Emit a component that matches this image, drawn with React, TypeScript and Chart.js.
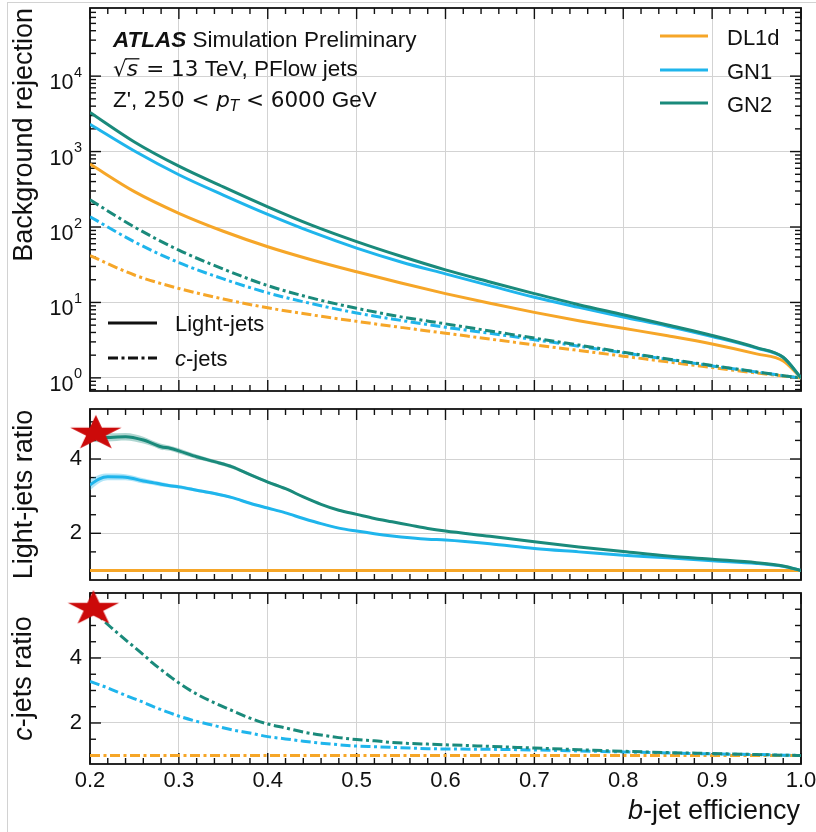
import React, { useEffect, useRef } from 'react';
import { Chart, registerables } from 'chart.js';
Chart.register(...registerables);

const FONT = '"Liberation Sans", Arial, Helvetica, sans-serif';
const MATH = '"DejaVu Sans", sans-serif';

// ---- data: top panel (background rejection) ----
const effTop = [0.2, 0.25, 0.3, 0.35, 0.4, 0.45, 0.5, 0.55, 0.6, 0.65, 0.7, 0.75, 0.8, 0.85, 0.9, 0.95, 0.98, 1.0];
const dl1dLight = [683, 294, 152, 87.9, 54.8, 36.6, 25.5, 18.1, 13.1, 9.73, 7.38, 5.73, 4.55, 3.61, 2.81, 2.08, 1.68, 1.0];
const gn1Light = [2300, 1016, 493, 265, 147, 85.3, 52.5, 34.4, 23.9, 16.7, 11.7, 8.6, 6.41, 4.84, 3.53, 2.48, 1.86, 1.0];
const gn2Light = [3300, 1340, 640, 340, 185, 105, 64, 40.9, 27.0, 18.7, 13.1, 9.33, 6.87, 5.02, 3.65, 2.52, 1.88, 1.0];
const dl1dC = [41.7, 23.1, 15.3, 11.1, 8.49, 6.82, 5.61, 4.67, 3.91, 3.27, 2.74, 2.31, 1.94, 1.63, 1.37, 1.16, 1.06, 1.0];
const gn1C = [137, 63.5, 33.7, 20.5, 13.4, 9.6, 7.24, 5.78, 4.69, 3.9, 3.21, 2.63, 2.15, 1.76, 1.44, 1.2, 1.07, 1.0];
const gn2C = [229, 100, 49.3, 27.7, 16.7, 11.4, 8.36, 6.44, 5.2, 4.19, 3.37, 2.72, 2.19, 1.78, 1.46, 1.2, 1.07, 1.0];

// ---- data: ratio panels ----
const effRatio = [0.2, 0.21, 0.22, 0.24, 0.26, 0.27, 0.28, 0.29, 0.3, 0.32, 0.34, 0.36, 0.38, 0.4, 0.42, 0.44, 0.46, 0.48, 0.5, 0.52, 0.54, 0.56, 0.58, 0.6, 0.65, 0.7, 0.75, 0.8, 0.85, 0.9, 0.95, 0.98, 1.0];
const gn2LightRatio = [4.6, 4.57, 4.58, 4.6, 4.51, 4.42, 4.33, 4.29, 4.22, 4.06, 3.93, 3.79, 3.58, 3.38, 3.2, 2.98, 2.78, 2.62, 2.51, 2.4, 2.31, 2.22, 2.13, 2.06, 1.92, 1.77, 1.63, 1.51, 1.39, 1.3, 1.21, 1.12, 1.0];
const gn1LightRatio = [3.3, 3.46, 3.52, 3.51, 3.41, 3.37, 3.32, 3.28, 3.25, 3.16, 3.07, 2.96, 2.81, 2.68, 2.55, 2.4, 2.26, 2.14, 2.06, 1.99, 1.93, 1.88, 1.84, 1.82, 1.72, 1.59, 1.5, 1.41, 1.34, 1.26, 1.19, 1.11, 1.0];
const gn2LightErr = [0.13, 0.12, 0.11, 0.1, 0.09, 0.08, 0.08, 0.07, 0.07, 0.06, 0.05, 0.05, 0.04, 0.04, 0.03, 0.03, 0.02, 0.02, 0.02, 0.02, 0.02, 0.02, 0.02, 0.02, 0.01, 0.01, 0.01, 0.01, 0.01, 0.01, 0.01, 0.01, 0.0];
const gn1LightErr = [0.14, 0.11, 0.09, 0.08, 0.07, 0.06, 0.06, 0.05, 0.05, 0.04, 0.04, 0.03, 0.03, 0.03, 0.02, 0.02, 0.02, 0.02, 0.02, 0.02, 0.02, 0.02, 0.02, 0.02, 0.01, 0.01, 0.01, 0.01, 0.01, 0.01, 0.01, 0.01, 0.0];
const gn2CRatio = [5.5, 5.3, 5.03, 4.56, 4.1, 3.86, 3.64, 3.43, 3.23, 2.89, 2.62, 2.38, 2.15, 1.97, 1.85, 1.72, 1.63, 1.55, 1.49, 1.45, 1.4, 1.37, 1.35, 1.33, 1.28, 1.23, 1.18, 1.13, 1.09, 1.06, 1.03, 1.01, 1.0];
const gn1CRatio = [3.28, 3.18, 3.08, 2.85, 2.64, 2.52, 2.41, 2.31, 2.21, 2.05, 1.92, 1.79, 1.69, 1.58, 1.51, 1.44, 1.38, 1.33, 1.29, 1.27, 1.25, 1.23, 1.21, 1.2, 1.19, 1.17, 1.14, 1.11, 1.08, 1.05, 1.03, 1.01, 1.0];
const dl1dRatioEff = [0.2, 1.0];
const dl1dRatio = [1, 1];

// ---- star markers ----
const starLightEff = [0.2066];
const starLightVal = [4.69];
const starCEff = [0.2038];
const starCVal = [5.52];

// ---- ticks ----
const xTickValues = [0.2, 0.3, 0.4, 0.5, 0.6, 0.7, 0.8, 0.9, 1.0];
const logTickValues = [1, 10, 100, 1000, 10000];
const logTickExponents = ['0', '1', '2', '3', '4'];
const ratioTickValues = [2, 4];

const C_DL1D = '#F6A628';
const C_GN1 = '#1FB5EC';
const C_GN2 = '#1A8A7B';
const DASH = [10, 3.5, 3, 3.5];

const pts = (xs: number[], ys: number[]) => xs.map((x, i) => ({ x, y: ys[i] }));

function yAfterFit(scale: any) {
  scale.width = 90;
  scale.paddingTop = 0; scale.paddingBottom = 0; scale.paddingLeft = 0; scale.paddingRight = 0;
}
function xAfterFitHidden(scale: any) {
  scale.height = 0;
  scale.paddingTop = 0; scale.paddingBottom = 0; scale.paddingLeft = 0; scale.paddingRight = 0;
}
function xAfterFitLabels(scale: any) {
  scale.height = 40;
  scale.paddingTop = 0; scale.paddingBottom = 0; scale.paddingLeft = 0; scale.paddingRight = 0;
}
const setTicks = (vals: number[]) => (scale: any) => { scale.ticks = vals.map((v) => ({ value: v })); };

type YT = { v: number; major: boolean };
function logYTicks(min: number, max: number): YT[] {
  const out: YT[] = [];
  for (let d = -1; d <= 4; d++) for (let k = 1; k <= 9; k++) {
    const v = k * Math.pow(10, d);
    if (v >= min && v <= max) out.push({ v, major: k === 1 });
  }
  return out;
}
function linYTicks(min: number, max: number): YT[] {
  const out: YT[] = [];
  for (let i = 0; i * 0.5 <= max; i++) {
    const v = i * 0.5;
    if (v >= min && v <= max) out.push({ v, major: ratioTickValues.includes(v) });
  }
  return out;
}

function framePlugin(yTicks: YT[]) {
  return {
    id: 'atlasFrame',
    beforeDatasetsDraw(chart: any) {
      const { ctx, chartArea: a, scales } = chart;
      const xs = scales.x, ys = scales.y;
      ctx.save();
      ctx.strokeStyle = '#111';
      ctx.lineWidth = 1.4;
      const line = (x1: number, y1: number, x2: number, y2: number) => {
        ctx.beginPath(); ctx.moveTo(x1, y1); ctx.lineTo(x2, y2); ctx.stroke();
      };
      for (let i = 0; i <= 40; i++) {
        const v = 0.2 + i * 0.02;
        const p = xs.getPixelForValue(v);
        const L = i % 5 === 0 ? 11 : 6;
        line(p, a.bottom, p, a.bottom - L);
        line(p, a.top, p, a.top + L);
      }
      for (const t of yTicks) {
        const p = ys.getPixelForValue(t.v);
        if (p < a.top + 0.5 || p > a.bottom - 0.5) continue;
        const L = t.major ? 11 : 6;
        line(a.left, p, a.left + L, p);
        line(a.right, p, a.right - L, p);
      }
      ctx.lineWidth = 1.8;
      ctx.strokeRect(a.left, a.top, a.right - a.left, a.bottom - a.top);
      ctx.restore();
    },
  };
}

type Run = { t: string; f: string; dy?: number };
function drawRuns(ctx: CanvasRenderingContext2D, x: number, y: number, runs: Run[]) {
  let cx = x;
  for (const r of runs) {
    ctx.font = r.f;
    ctx.fillText(r.t, cx, y + (r.dy || 0));
    cx += ctx.measureText(r.t).width;
  }
  return cx;
}
function runsWidth(ctx: CanvasRenderingContext2D, runs: Run[]) {
  let w = 0;
  for (const r of runs) { ctx.font = r.f; w += ctx.measureText(r.t).width; }
  return w;
}

const F = (size: number, style = '') => `${style} ${size}px ${FONT}`.trim();
const M = (size: number, style = '') => `${style} ${size}px ${MATH}`.trim();

const topTextPlugin = {
  id: 'topText',
  afterDraw(chart: any) {
    const { ctx, scales } = chart;
    const ys = scales.y;
    ctx.save();
    ctx.fillStyle = '#111';
    ctx.textBaseline = 'alphabetic';
    ctx.textAlign = 'left';
    // log tick labels
    logTickValues.forEach((v, i) => {
      const p = ys.getPixelForValue(v);
      ctx.font = F(14.5);
      const sw = ctx.measureText(logTickExponents[i]).width;
      ctx.fillText(logTickExponents[i], 82 - sw, p + 0.5);
      ctx.font = F(21.5);
      const bw = ctx.measureText('10').width;
      ctx.fillText('10', 82 - sw - bw - 0.5, p + 13);
    });
    // annotation text
    drawRuns(ctx, 113, 46.5, [
      { t: 'ATLAS', f: F(22.5, 'italic bold') },
      { t: ' Simulation Preliminary', f: F(22.5) },
    ]);
    ctx.font = M(21.5);
    const rm = ctx.measureText('\u221A');
    const rw = rm.width;
    ctx.fillText('\u221A', 113, 76);
    const barY = 76 - (rm.actualBoundingBoxAscent || 17) + 0.8;
    ctx.font = M(21.5, 'oblique');
    const sW = ctx.measureText('s').width;
    ctx.fillText('s', 113 + rw, 76);
    ctx.strokeStyle = '#111';
    ctx.lineWidth = 1.3;
    ctx.beginPath(); ctx.moveTo(113 + rw - 1.5, barY); ctx.lineTo(113 + rw + sW + 1.5, barY); ctx.stroke();
    drawRuns(ctx, 113 + rw + sW + 1.5, 76, [
      { t: ' = 13', f: M(21.5) },
      { t: ' TeV, PFlow jets', f: F(22.5) },
    ]);
    drawRuns(ctx, 113, 106.5, [
      { t: 'Z\', ', f: F(22.5) },
      { t: '250 < ', f: M(21.5) },
      { t: 'p', f: M(21.5, 'oblique') },
      { t: 'T', f: M(15, 'oblique'), dy: 4 },
      { t: ' < 6000', f: M(21.5) },
      { t: ' GeV', f: F(22.5) },
    ]);
    // legend (taggers)
    const items: [string, string, number][] = [['DL1d', C_DL1D, 36], ['GN1', C_GN1, 70], ['GN2', C_GN2, 103]];
    ctx.lineWidth = 3;
    for (const [lab, col, y] of items) {
      ctx.strokeStyle = col;
      ctx.beginPath(); ctx.moveTo(660, y); ctx.lineTo(708, y); ctx.stroke();
      ctx.font = F(22);
      ctx.fillText(lab, 727, y + 9);
    }
    // legend (jet flavour)
    ctx.strokeStyle = '#111';
    ctx.beginPath(); ctx.moveTo(108, 323); ctx.lineTo(157, 323); ctx.stroke();
    ctx.setLineDash(DASH);
    ctx.beginPath(); ctx.moveTo(108, 358); ctx.lineTo(157, 358); ctx.stroke();
    ctx.setLineDash([]);
    drawRuns(ctx, 175, 331, [{ t: 'Light-jets', f: F(22) }]);
    drawRuns(ctx, 175, 366, [{ t: 'c', f: F(22, 'italic') }, { t: '-jets', f: F(22) }]);
    ctx.restore();
  },
};

const bottomTextPlugin = {
  id: 'bottomText',
  afterDraw(chart: any) {
    const { ctx, chartArea: a } = chart;
    ctx.save();
    ctx.fillStyle = '#111';
    // y title
    const runs: Run[] = [{ t: 'c', f: F(27, 'italic') }, { t: '-jets ratio', f: F(27) }];
    const w = runsWidth(ctx, runs);
    ctx.translate(24, (a.top + a.bottom) / 2);
    ctx.rotate(-Math.PI / 2);
    ctx.textBaseline = 'middle';
    drawRuns(ctx, -w / 2, 0, runs);
    ctx.setTransform(1, 0, 0, 1, 0, 0);
    // x title
    ctx.textBaseline = 'alphabetic';
    const xr: Run[] = [{ t: 'b', f: F(27, 'italic') }, { t: '-jet efficiency', f: F(27) }];
    const xw = runsWidth(ctx, xr);
    drawRuns(ctx, 800 - xw, 231, xr);
    ctx.restore();
  },
};

function makeStar(): HTMLCanvasElement {
  const c = document.createElement('canvas');
  const Rx = 27, Ry = 18.5;
  c.width = Math.ceil(2 * Rx + 4);
  c.height = Math.ceil(2 * Ry + 4);
  const g = c.getContext('2d')!;
  const cx = c.width / 2, cy = c.height / 2;
  g.beginPath();
  for (let k = 0; k < 10; k++) {
    const ang = -Math.PI / 2 + (k * Math.PI) / 5;
    const r = k % 2 === 0 ? 1 : 0.382;
    const x = cx + Rx * r * Math.cos(ang);
    const y = cy + Ry * r * Math.sin(ang);
    if (k === 0) g.moveTo(x, y); else g.lineTo(x, y);
  }
  g.closePath();
  g.fillStyle = '#CC0A0A';
  g.fill();
  return c;
}

const GRID = { color: '#d3d3d3', lineWidth: 1, drawTicks: false };
const tickFont = { family: FONT, size: 22 };

function lineDs(label: string, data: any, color: string, order: number, dash?: number[]) {
  return {
    label, data, borderColor: color, backgroundColor: color, borderWidth: 3,
    pointRadius: 0, fill: false, cubicInterpolationMode: 'monotone', order,
    borderDash: dash || [], borderCapStyle: 'butt',
  };
}

export default function App() {
  const refA = useRef<HTMLCanvasElement>(null);
  const refB = useRef<HTMLCanvasElement>(null);
  const refC = useRef<HTMLCanvasElement>(null);

  useEffect(() => {
    const star = makeStar();
    const common = {
      responsive: false,
      animation: false,
      events: [],
    };
    const xHidden = {
      type: 'linear', min: 0.2, max: 1.0,
      grid: GRID, border: { display: false },
      ticks: { display: false },
      afterBuildTicks: setTicks(xTickValues),
      afterFit: xAfterFitHidden,
    };

    const topMin = 0.67, topMax = 80000;
    const chartA = new Chart(refA.current!, {
      type: 'line',
      data: {
        datasets: [
          lineDs('GN2 light', pts(effTop, gn2Light), C_GN2, 1),
          lineDs('GN1 light', pts(effTop, gn1Light), C_GN1, 2),
          lineDs('DL1d light', pts(effTop, dl1dLight), C_DL1D, 3),
          lineDs('GN2 c', pts(effTop, gn2C), C_GN2, 4, DASH),
          lineDs('GN1 c', pts(effTop, gn1C), C_GN1, 5, DASH),
          lineDs('DL1d c', pts(effTop, dl1dC), C_DL1D, 6, DASH),
        ] as any,
      },
      options: {
        ...common,
        layout: { autoPadding: false, padding: { top: 8, bottom: 9, left: 0, right: 15 } },
        plugins: { legend: { display: false }, tooltip: { enabled: false } },
        scales: {
          x: xHidden as any,
          y: {
            type: 'logarithmic', min: topMin, max: topMax,
            grid: GRID, border: { display: false },
            ticks: { display: false },
            afterBuildTicks: setTicks(logTickValues),
            afterFit: yAfterFit,
            title: {
              display: true, text: 'Background rejection', align: 'end', color: '#111',
              font: { family: FONT, size: 27 }, padding: { top: 8, bottom: 0 },
            },
          } as any,
        },
      },
      plugins: [framePlugin(logYTicks(topMin, topMax)), topTextPlugin],
    } as any);

    const bMin = 0.743, bMax = 5.346;
    const gn2Lo = gn2LightRatio.map((v, i) => v - gn2LightErr[i]);
    const gn2Hi = gn2LightRatio.map((v, i) => v + gn2LightErr[i]);
    const gn1Lo = gn1LightRatio.map((v, i) => v - gn1LightErr[i]);
    const gn1Hi = gn1LightRatio.map((v, i) => v + gn1LightErr[i]);
    const band = (data: any, color: string, fill: any) => ({
      data, borderWidth: 0, borderColor: 'transparent', backgroundColor: color, pointRadius: 0,
      fill, cubicInterpolationMode: 'monotone', order: 20,
    });
    const chartB = new Chart(refB.current!, {
      type: 'line',
      data: {
        datasets: [
          band(pts(effRatio, gn2Lo), 'transparent', false),
          band(pts(effRatio, gn2Hi), 'rgba(26,138,123,0.35)', '-1'),
          band(pts(effRatio, gn1Lo), 'transparent', false),
          band(pts(effRatio, gn1Hi), 'rgba(31,181,236,0.35)', '-1'),
          lineDs('GN2', pts(effRatio, gn2LightRatio), C_GN2, 2),
          lineDs('GN1', pts(effRatio, gn1LightRatio), C_GN1, 3),
          lineDs('DL1d', pts(dl1dRatioEff, dl1dRatio), C_DL1D, 4),
          {
            type: 'scatter', data: pts(starLightEff, starLightVal), pointStyle: star,
            pointRadius: 20, clip: false, order: 0, showLine: false,
          },
        ] as any,
      },
      options: {
        ...common,
        layout: { autoPadding: false, padding: { top: 9, bottom: 8, left: 0, right: 15 } },
        plugins: { legend: { display: false }, tooltip: { enabled: false } },
        scales: {
          x: xHidden as any,
          y: {
            type: 'linear', min: bMin, max: bMax,
            grid: GRID, border: { display: false },
            ticks: { font: tickFont, color: '#111', padding: 8 },
            afterBuildTicks: setTicks(ratioTickValues),
            afterFit: yAfterFit,
            title: {
              display: true, text: 'Light-jets ratio', align: 'center', color: '#111',
              font: { family: FONT, size: 27 }, padding: { top: 8, bottom: 0 },
            },
          } as any,
        },
      },
      plugins: [framePlugin(linYTicks(bMin, bMax))],
    } as any);

    const cMin = 0.738, cMax = 6.0;
    const chartC = new Chart(refC.current!, {
      type: 'line',
      data: {
        datasets: [
          lineDs('GN2', pts(effRatio, gn2CRatio), C_GN2, 2, DASH),
          lineDs('GN1', pts(effRatio, gn1CRatio), C_GN1, 3, DASH),
          lineDs('DL1d', pts(dl1dRatioEff, dl1dRatio), C_DL1D, 4, DASH),
          {
            type: 'scatter', data: pts(starCEff, starCVal), pointStyle: star,
            pointRadius: 20, clip: false, order: 0, showLine: false,
          },
        ] as any,
      },
      options: {
        ...common,
        layout: { autoPadding: false, padding: { top: 5, bottom: 28, left: 0, right: 15 } },
        plugins: { legend: { display: false }, tooltip: { enabled: false } },
        scales: {
          x: {
            type: 'linear', min: 0.2, max: 1.0,
            grid: GRID, border: { display: false },
            ticks: {
              font: tickFont, color: '#111', padding: 4, maxRotation: 0, autoSkip: false,
              callback: (v: any) => Number(v).toFixed(1),
            },
            afterBuildTicks: setTicks(xTickValues),
            afterFit: xAfterFitLabels,
          } as any,
          y: {
            type: 'linear', min: cMin, max: cMax,
            grid: GRID, border: { display: false },
            ticks: { font: tickFont, color: '#111', padding: 8 },
            afterBuildTicks: setTicks(ratioTickValues),
            afterFit: yAfterFit,
          } as any,
        },
      },
      plugins: [framePlugin(linYTicks(cMin, cMax)), bottomTextPlugin],
    } as any);

    return () => { chartA.destroy(); chartB.destroy(); chartC.destroy(); };
  }, []);

  const cv = (top: number, h: number): React.CSSProperties => ({
    position: 'absolute', left: 0, top, width: 816, height: h, display: 'block',
  });

  return (
    <div style={{ position: 'absolute', left: 0, top: 0, width: 816, height: 832, background: '#fff', overflow: 'hidden' }}>
      <div style={{ position: 'absolute', left: 7, top: 2, width: 809, height: 830, borderLeft: '1px solid #d2d2d2', borderTop: '1px solid #d2d2d2' }} />
      <canvas ref={refA} width={816} height={400} style={cv(0, 400)} />
      <canvas ref={refB} width={816} height={188} style={cv(400, 188)} />
      <canvas ref={refC} width={816} height={244} style={cv(588, 244)} />
    </div>
  );
}
